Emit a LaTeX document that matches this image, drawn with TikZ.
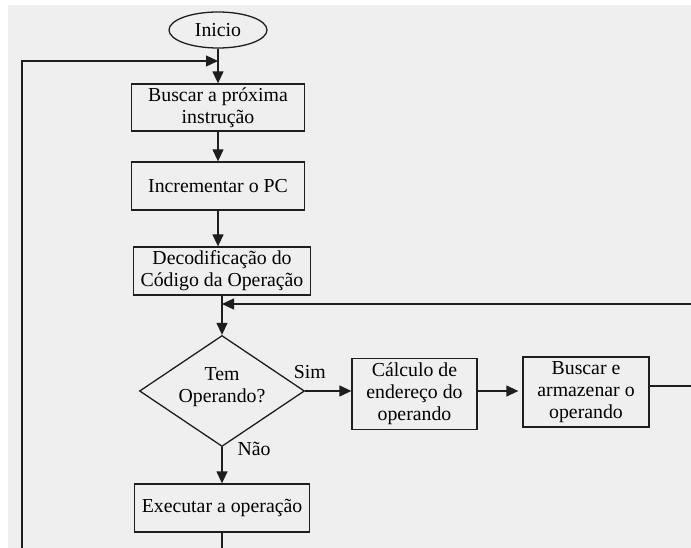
\documentclass[tikz,border=0pt]{standalone}
\usepackage{fontspec}
\setmainfont{Liberation Serif}
\usetikzlibrary{shapes.geometric,arrows.meta}
\definecolor{fundo}{RGB}{239,239,239}
\definecolor{traco}{RGB}{30,30,30}

\begin{document}
\begin{tikzpicture}[x=1pt,y=-1pt,
  font=\fontsize{19.8}{22}\selectfont,
  caixa/.style={draw=traco, line width=1.3pt, fill=fundo, align=center, inner sep=0pt},
  decisao/.style={draw=traco, diamond, line width=1.3pt, inner sep=0pt,
    minimum width=165pt, minimum height=111pt},
  seta/.style={draw=traco, line width=1.3pt, -{Triangle[length=12pt,width=11pt]}},
  rotulo/.style={inner sep=0pt}]
  \useasboundingbox (0,0) rectangle (691,548);
  \fill[white] (0,0) rectangle (691,548);
  \fill[fundo] (8,5) rectangle (691,548);
  \clip (0,0) rectangle (691,548);

  \node[draw=traco, ellipse, line width=1.3pt, minimum width=98pt, minimum height=36pt, inner sep=0pt] (inicio) at (218,30) {Inicio};
  \node[caixa, minimum width=173pt, minimum height=47pt] (busca) at (218,107.5) {Buscar a próxima\\instrução};
  \node[caixa, minimum width=173pt, minimum height=48pt] (incr) at (218,186) {Incrementar o PC};
  \node[caixa, minimum width=177pt, minimum height=48pt] (decod) at (222,271) {Decodificação do\\Código da Operação};
  \node[decisao, label={[align=center, yshift=4pt]center:Tem\\Operando?}] (teste) at (222,391) {};
  \node[caixa, minimum width=125pt, minimum height=71pt] (calc) at (414.5,394) {Cálculo de\\endereço do\\operando};
  \node[caixa, minimum width=126pt, minimum height=70pt] (buscop) at (586,392) {Buscar e\\armazenar o\\operando};
  \node[caixa, minimum width=175pt, minimum height=48pt] (exec) at (222,508) {Executar a operação};

  \coordinate (volta) at (218,61);
  \coordinate (junta) at (222,304);
  \coordinate (canto) at (22,580);
  \coordinate (direita) at (720,304);

  \draw[seta] (inicio) -- (busca);
  \draw[seta] (busca) -- (incr);
  \draw[seta] (incr.south) -- (incr.south |- decod.north);
  \draw[seta] (decod) -- (teste);
  \draw[seta] (teste.east) -- (teste.east -| calc.west) node[rotulo, pos=0, anchor=south west, xshift=-12pt, yshift=12pt] {Sim};
  \draw[seta] (calc.east |- teste.east) -- ([xshift=-4pt]teste.east -| buscop.west);
  \draw[seta] (teste.south) -- (exec.north) node[rotulo, pos=0, anchor=west, xshift=15pt, yshift=-2pt] {Não};
  \draw[seta] ([yshift=6pt]buscop.east) -| (direita) -- (junta);
  \draw[seta] (exec.south) |- (canto) |- (volta);
\end{tikzpicture}
\end{document}
